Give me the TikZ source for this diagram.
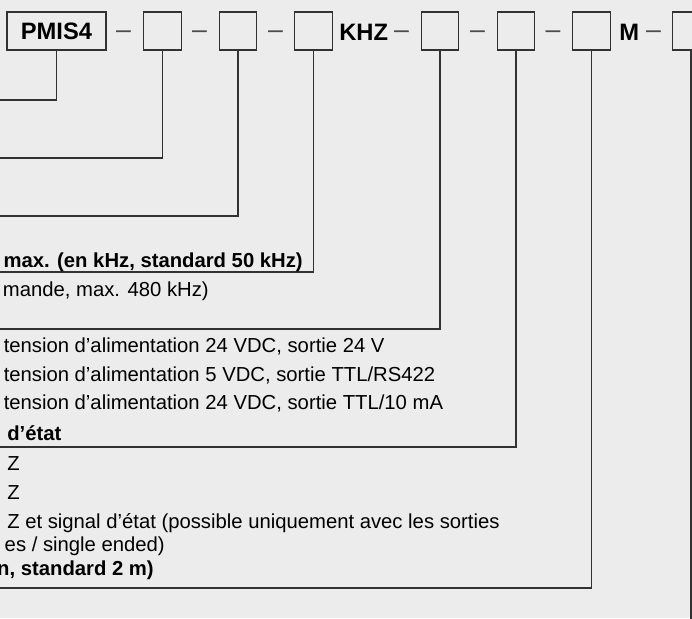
\documentclass[tikz,border=0pt]{standalone}
\usepackage{fontspec}
\setmainfont{Liberation Sans}
\definecolor{bg}{RGB}{236,236,236}
\definecolor{ln}{RGB}{50,50,50}
\begin{document}
\begin{tikzpicture}[x=0.75pt,y=-0.75pt,
  conn/.style={draw=ln, line width=0.8pt},
  codebox/.style={draw=ln, line width=1pt, fill=bg, inner sep=0pt,
    minimum width=28.1pt, minimum height=28.5pt,
    font=\fontsize{17.8pt}{20pt}\selectfont\bfseries},
  hdr/.style={inner sep=0pt, font=\fontsize{17.8pt}{20pt}\selectfont\bfseries},
  sep/.style={inner sep=0pt, text=black!70, font=\fontsize{20pt}{22pt}\selectfont},
  txt/.style={inner sep=0pt, font=\fontsize{15.2pt}{18pt}\selectfont},
  btxt/.style={inner sep=0pt, font=\fontsize{15.2pt}{18pt}\selectfont\bfseries}]
\useasboundingbox (0,0) rectangle (692,618);
\clip (0,0) rectangle (692,618);
\fill[bg] (0,0) rectangle (692,618);

% header boxes
\node[codebox, minimum width=74.25pt] (b1) at (56.5,31) {PMIS4};
\node[codebox] (b2) at (162.5,31) {};
\node[codebox] (b3) at (238,31) {};
\node[codebox] (b4) at (313.5,31) {};
\node[codebox] (b5) at (440,31) {};
\node[codebox] (b6) at (516,31) {};
\node[codebox] (b7) at (591.5,31) {};
\node[codebox] (b8) at (691,31) {};

% fixed header texts
\node[hdr, anchor=base west] (khz) at (339,40) {KHZ};
\node[hdr, anchor=base west] (mm) at (619,40) {M};

% separators
\node[sep, anchor=base] (s1) at (123.5,38.2) {–};
\node[sep, anchor=base] (s2) at (199.5,38.2) {–};
\node[sep, anchor=base] (s3) at (275.5,38.2) {–};
\node[sep, anchor=base] (s4) at (401.5,38.2) {–};
\node[sep, anchor=base] (s5) at (477.5,38.2) {–};
\node[sep, anchor=base] (s6) at (553,38.2) {–};
\node[sep, anchor=base] (s7) at (653.5,38.2) {–};

% connector ends
\coordinate (e1) at (-3,100);
\coordinate (e2) at (-3,158);
\coordinate (e3) at (-3,216);
\coordinate (e4) at (-3,272);
\coordinate (e5) at (-3,329);
\coordinate (e6) at (-3,447);
\coordinate (e7) at (-3,588);
\coordinate (e8) at (691,625);

\draw[conn] (b1.south) |- (e1);
\draw[conn] (b2.south) |- (e2);
\draw[conn] (b3.south) |- (e3);
\draw[conn] (b4.south) |- (e4);
\draw[conn] (b5.south) |- (e5);
\draw[conn] (b6.south) |- (e6);
\draw[conn] (b7.south) |- (e7);
\draw[conn] (b8.south) -- (e8);

% texts
\node[btxt, anchor=base east] (t1) at (303,267) {max. (en kHz, standard 50 kHz)};
\node[txt, anchor=base east] (t2) at (209,296) {mande, max. 480 kHz)};
\node[txt, anchor=base west] (t3) at (3.5,352) {tension d’alimentation 24 VDC, sortie 24 V};
\node[txt, anchor=base west] (t4) at (3.5,381) {tension d’alimentation 5 VDC, sortie TTL/RS422};
\node[txt, anchor=base west] (t5) at (3.5,409) {tension d’alimentation 24 VDC, sortie TTL/10 mA};
\node[btxt, anchor=base west] (t6) at (7,440.5) {d’état};
\node[txt, anchor=base west] (t7) at (7,470.5) {Z};
\node[txt, anchor=base west] (t8) at (7,499) {Z};
\node[txt, anchor=base west] (t9) at (7,528) {Z et signal d’état (possible uniquement avec les sorties};
\node[txt, anchor=base east] (t10) at (165,551.5) {es / single ended)};
\node[btxt, anchor=base east] (t11) at (154,575) {n, standard 2 m)};
\end{tikzpicture}
\end{document}
